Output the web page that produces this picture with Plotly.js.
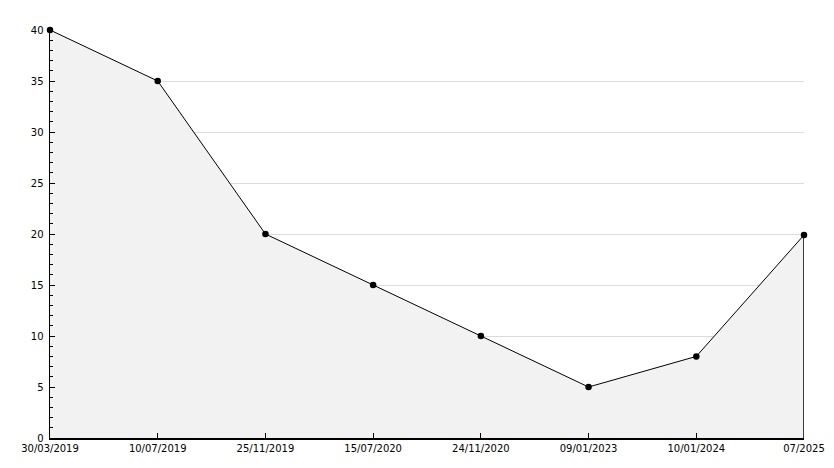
<!DOCTYPE html>
<html><head><meta charset="utf-8">
<script src="https://cdn.plot.ly/plotly-3.0.1.min.js"></script>
<style>body{margin:0;background:#fff}#c{width:834px;height:468px}</style>
</head><body><div id="c"></div>
<script>
const dates = ["30/03/2019","10/07/2019","25/11/2019","15/07/2020","24/11/2020","09/01/2023","10/01/2024","07/2025"];
const values = [40, 35, 20, 15, 10, 5, 8, 19.9];
const idx = dates.map((d,i)=>i);
const last = idx.length-1;
const font = {family:"DejaVu Sans", size:10, color:"#000"};
Plotly.newPlot("c", [
  {x: idx, y: values, type:"scatter", mode:"lines+markers", fill:"tozeroy", fillcolor:"#f2f2f2", cliponaxis:false,
   line:{color:"#000", width:1}, marker:{color:"#000", size:6.5, symbol:"circle"}, hoverinfo:"skip"},
  {x:[idx[last], idx[last]], y:[0, values[last]], type:"scatter", mode:"lines", line:{color:"#000", width:1.5}, hoverinfo:"skip", cliponaxis:false}
], {
  width:834, height:468, showlegend:false,
  margin:{l:50, r:30, t:30, b:30},
  paper_bgcolor:"#fff", plot_bgcolor:"#fff", font:font,
  xaxis:{range:[0,last], tickvals:idx, ticktext:dates, showgrid:false, zeroline:false,
    showline:true, linecolor:"#000", linewidth:1.5, ticks:"inside", ticklen:5, tickcolor:"#000", tickfont:font},
  yaxis:{range:[0,40], dtick:5, showgrid:true, gridcolor:"#dcdcdc", zeroline:false, ticklabelstandoff:3,
    showline:true, linecolor:"#000", linewidth:1.5, ticks:"inside", ticklen:5, tickcolor:"#000", tickfont:font,
    minor:{dtick:1, ticks:"inside", ticklen:3, tickcolor:"#000", showgrid:false}}
}, {staticPlot:true});
</script></body></html>
